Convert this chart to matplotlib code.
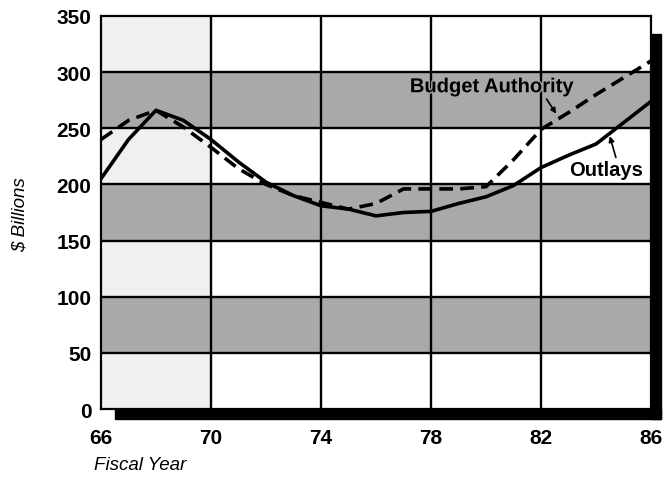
import matplotlib
matplotlib.use("Agg")
from matplotlib import pyplot as plt
from matplotlib.patches import Rectangle
import matplotlib.patheffects as pe

years = [66, 67, 68, 69, 70, 71, 72, 73, 74, 75, 76, 77, 78, 79, 80, 81, 82, 83, 84, 85, 86]
outlays = [205, 240, 266, 257, 240, 220, 202, 190, 181, 178, 172, 175, 176, 183, 189, 199, 215, 226, 236, 255, 274]
budget_authority = [240, 257, 266, 251, 233, 214, 200, 190, 184, 178, 183, 196, 196, 196, 198, 222, 249, 264, 280, 295, 310]

x_ticks = [66, 70, 74, 78, 82, 86]
y_ticks = [0, 50, 100, 150, 200, 250, 300, 350]
shaded_bands = [(50, 100), (150, 200), (250, 300)]

plt.rcParams["font.family"] = ["Liberation Sans", "DejaVu Sans"]

fig = plt.figure(figsize=(6.63, 4.81), dpi=100)
ax = fig.add_axes([0.1523, 0.1476, 0.8297, 0.8171])
ax.set_xlim(66, 86)
ax.set_ylim(0, 350)

# light stipple in the first column, gray bands across
ax.axvspan(66, 70, color="#f0f0f0", zorder=0)
for lo, hi in shaded_bands:
    ax.axhspan(lo, hi, facecolor="#a9a9a9", edgecolor="none", zorder=1)

for x in x_ticks[1:-1]:
    ax.axvline(x, color="black", lw=1.7, zorder=2)
for y in y_ticks[1:-1]:
    ax.axhline(y, color="black", lw=1.7, zorder=2)

ax.plot(years, outlays, color="black", lw=2.6, zorder=4, solid_capstyle="butt")
ax.plot(years, budget_authority, color="black", lw=2.6, zorder=4,
        dashes=(3.8, 2.0))

halo = [pe.withStroke(linewidth=2, foreground="#a9a9a9")]
arrow = dict(arrowstyle="-|>", color="black", lw=1.2, mutation_scale=8,
             shrinkA=0, shrinkB=0)
ax.text(80.2, 287, "Budget Authority", ha="center", va="center",
        fontsize=14.5, fontweight="bold", path_effects=halo, zorder=5)
ax.annotate("", xy=(82.55, 263), xytext=(82.2, 276), arrowprops=arrow, zorder=5)
ax.text(84.35, 213, "Outlays", ha="center", va="center",
        fontsize=14.5, fontweight="bold", zorder=5)
ax.annotate("", xy=(84.5, 243), xytext=(84.72, 224), arrowprops=arrow, zorder=5)

# drop shadow along bottom and right
ax.add_patch(Rectangle((0.0255, -0.026), 0.993, 0.026, transform=ax.transAxes,
                       color="black", clip_on=False, zorder=6))
ax.add_patch(Rectangle((1.0, -0.026), 0.018, 0.98, transform=ax.transAxes,
                       color="black", clip_on=False, zorder=6))

for side in ["top", "left", "right", "bottom"]:
    ax.spines[side].set_linewidth(1.6)

ax.set_xticks(x_ticks)
ax.set_xticklabels([str(x) for x in x_ticks], fontsize=15, fontweight="bold")
ax.set_yticks(y_ticks)
ax.set_yticklabels([str(y) for y in y_ticks], fontsize=15, fontweight="bold")
ax.tick_params(axis="x", length=0, pad=14)
ax.tick_params(axis="y", length=0, pad=7)

fig.text(0.03, 0.553, "$ Billions", rotation=90, ha="center", va="center",
         fontsize=13.5, style="italic")
fig.text(0.142, 0.033, "Fiscal Year", ha="left", va="center",
         fontsize=13.5, style="italic")

fig.savefig("out.png", dpi=100)
